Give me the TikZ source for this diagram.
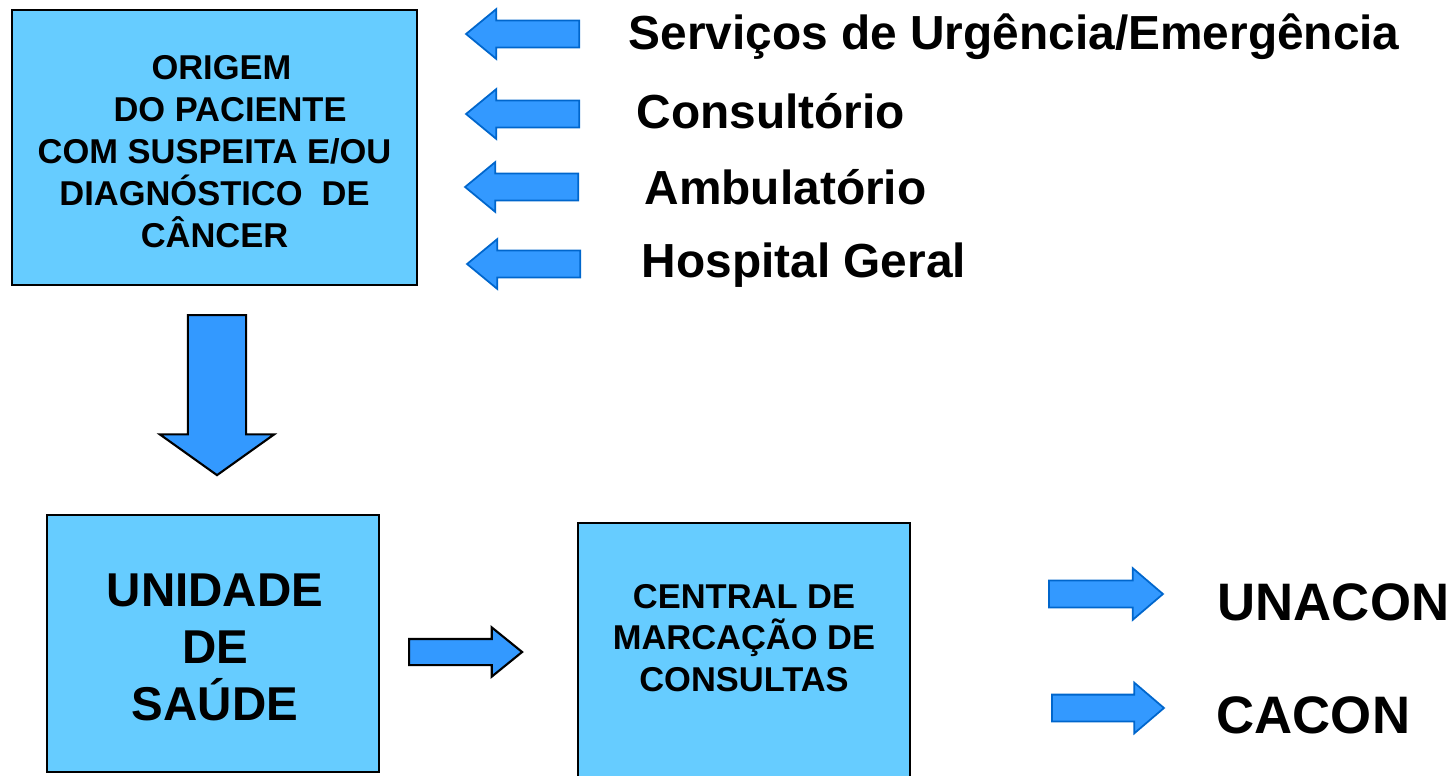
\documentclass[tikz,border=0pt]{standalone}
\usepackage{fontspec}
\setmainfont{Liberation Sans}
\usetikzlibrary{shapes.arrows}
\definecolor{azulcaixa}{HTML}{66CCFF}
\definecolor{azulseta}{HTML}{3399FF}
\definecolor{bordaseta}{HTML}{0066CC}

\begin{document}
\begin{tikzpicture}[x=0.01cm,y=-0.01cm,
  caixa/.style={draw,line width=0.6pt,fill=azulcaixa,inner sep=0pt,align=center},
  seta/.style={single arrow,fill=azulseta,draw=bordaseta,line width=0.5pt,inner sep=0.125cm,anchor=tail,
    minimum height=1.13cm,single arrow head extend=0.115cm,single arrow tip angle=79},
  setapreta/.style={seta,draw=black,line width=0.6pt},
  rotulo/.style={anchor=base west,inner sep=0pt,font=\fontsize{13.6}{16}\selectfont\bfseries},
  grande/.style={rotulo,font=\fontsize{15}{18}\selectfont\bfseries}]
\clip (0,0) rectangle (1455,776);

\node[caixa,minimum width=4.05cm,minimum height=2.75cm] (origem) at (214.5,147.5) {};
\node[align=center,inner sep=0pt,font=\fontsize{9.8}{11.95}\selectfont\bfseries] (origemtxt) at (214.5,152)
  {\hspace*{0.4em}ORIGEM\\\hspace*{0.9em}DO PACIENTE\\COM SUSPEITA E/OU\\DIAGNÓSTICO\ \ DE\\CÂNCER};
\node[caixa,minimum width=3.32cm,minimum height=2.57cm] (unidade) at (213,643.5) {};
\node[align=center,inner sep=0pt,font=\fontsize{13.5}{16.2}\selectfont\bfseries] (unidadetxt) at (215,647)
  {UNIDADE\\DE\\SAÚDE};
\node[caixa,minimum width=3.32cm,minimum height=2.8cm,anchor=north] (central) at (744,522) {};
\node[align=center,inner sep=0pt,font=\fontsize{9.8}{11.8}\selectfont\bfseries] (centraltxt) at (744,638)
  {CENTRAL DE\\MARCAÇÃO DE\\CONSULTAS};

\node[seta,shape border rotate=180] (sUrg) at (580,34) {};
\node[seta,shape border rotate=180] (sCons) at (580,114) {};
\node[seta,shape border rotate=180] (sAmb) at (579,187) {};
\node[seta,shape border rotate=180] (sHosp) at (581,264) {};

\node[rotulo] (urg) at (628,50) {Serviços de Urgência/Emergência};
\node[rotulo] (cons) at (636,129) {Consultório};
\node[rotulo] (amb) at (644,204) {Ambulatório};
\node[rotulo] (hosp) at (641,277) {Hospital Geral};

\node[setapreta,shape border rotate=270,minimum height=1.6cm,inner sep=0.28cm,
  single arrow head extend=0.28cm,single arrow tip angle=109] (sDesce) at (217,314) {};
\node[setapreta,inner sep=0.12cm,single arrow tip angle=78] (sCentral) at (408,652) {};

\node[seta,minimum height=1.14cm,single arrow head extend=0.125cm,single arrow tip angle=81] (sUnacon) at (1048,594) {};
\node[seta,minimum height=1.12cm,single arrow head extend=0.12cm,single arrow tip angle=81] (sCacon) at (1051,708) {};

\node[grande] (unacon) at (1217,620) {UNACON};
\node[grande] (cacon) at (1216,733) {CACON};
\end{tikzpicture}
\end{document}
